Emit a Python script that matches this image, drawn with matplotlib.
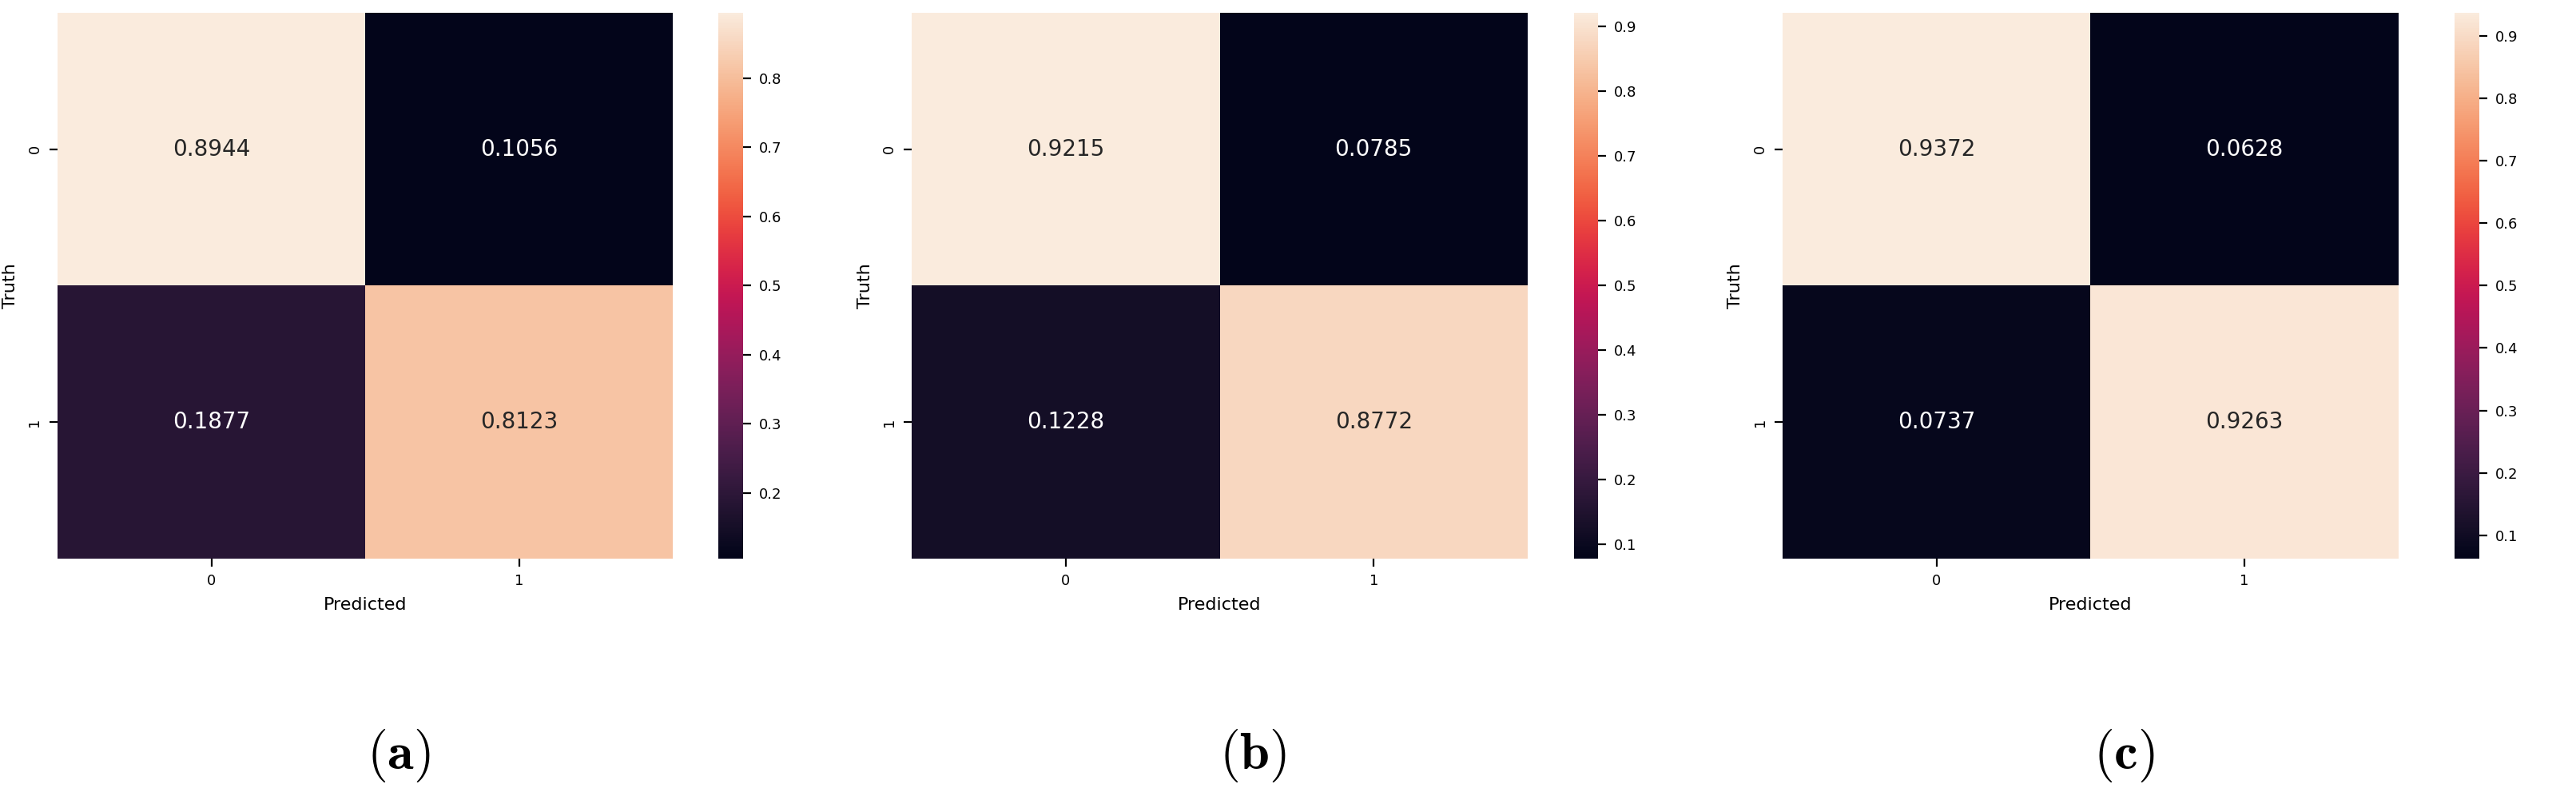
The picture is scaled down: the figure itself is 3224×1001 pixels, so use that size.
import matplotlib
matplotlib.use("Agg")
import matplotlib.pyplot as plt
import seaborn as sns
import numpy as np

cm_a = [[0.8944, 0.1056], [0.1877, 0.8123]]
cm_b = [[0.9215, 0.0785], [0.1228, 0.8772]]
cm_c = [[0.9372, 0.0628], [0.0737, 0.9263]]
panel_labels = ["a", "b", "c"]

plt.rcParams["mathtext.fontset"] = "cm"
fig = plt.figure(figsize=(16.12, 5.005), dpi=200)

heat_x = [0.0223, 0.354, 0.692]
cbar_x = [0.279, 0.611, 0.953]
bottom, height = 0.302, 0.682

for cm, hx, cx, lab in zip([cm_a, cm_b, cm_c], heat_x, cbar_x, panel_labels):
    ax = fig.add_axes([hx, bottom, 0.239, height])
    cax = fig.add_axes([cx, bottom, 0.0095, height])
    sns.heatmap(np.array(cm), annot=True, fmt=".4f", ax=ax, cbar_ax=cax,
                annot_kws={"fontsize": 10})
    ax.set_xlabel("Predicted", fontsize=8)
    ax.set_ylabel("Truth", fontsize=8)
    ax.tick_params(labelsize=6.5)
    cax.tick_params(labelsize=6.5)
    fig.text(hx + 0.1325, 0.055, r"$(\mathbf{" + lab + "})$", fontsize=24,
             ha="center", va="center")

fig.savefig("out.png", dpi=200)
